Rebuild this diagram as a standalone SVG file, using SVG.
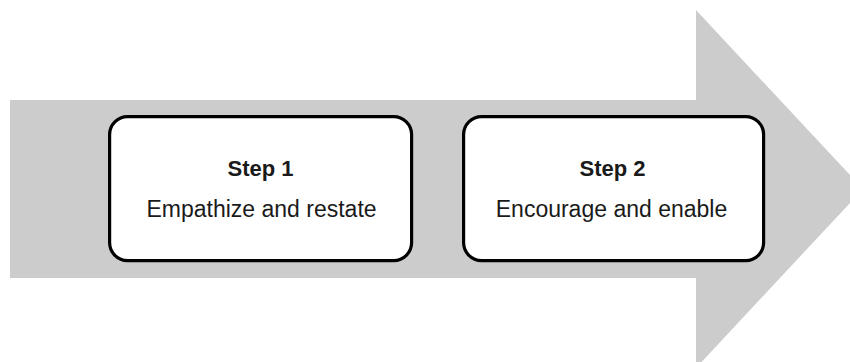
<svg xmlns="http://www.w3.org/2000/svg" width="850" height="362" viewBox="0 0 850 362">
<style>
.box{fill:#fff;stroke:#000;stroke-width:3.2}
.t{font-family:"Liberation Sans",Arial,sans-serif;fill:#1a1a1a;text-anchor:middle}
.h{font-weight:bold;font-size:22px}
.s{font-size:23px}
</style>
<rect width="850" height="362" fill="#fff"/>
<g id="arrow">
<polygon points="10,100 696,100 696,10 863,189 696,368 696,278 10,278" fill="#cccccc"/>
</g>
<g id="connectors"></g>
<g id="step1">
<rect class="box" x="109.6" y="116.6" width="302" height="144" rx="18"/>
<text class="t h" x="260.5" y="175.5">Step 1</text>
<text class="t s" x="261.5" y="217">Empathize and restate</text>
</g>
<g id="step2">
<rect class="box" x="463.6" y="116.6" width="300" height="144" rx="18"/>
<text class="t h" x="612.5" y="175.5">Step 2</text>
<text class="t s" x="611.5" y="217">Encourage and enable</text>
</g>
</svg>
